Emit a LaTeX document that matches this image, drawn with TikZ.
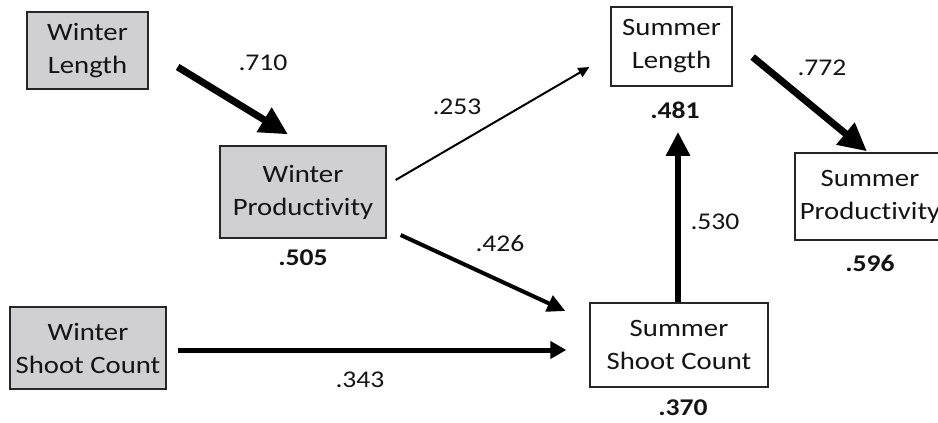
\documentclass[tikz,border=0pt]{standalone}
\usepackage{fontspec}
\setmainfont{Carlito}[Ligatures=NoCommon,FakeStretch=1.15]
\usetikzlibrary{arrows.meta,calc}
\definecolor{boxgray}{RGB}{208,207,209}
\definecolor{txt}{RGB}{20,20,20}
\tikzset{
  var/.style={draw=black!85,line width=1.3pt,inner sep=0pt,align=center,
    font=\fontsize{25}{33}\selectfont,text=txt},
  exo/.style={var,fill=boxgray},
  endo/.style={var,fill=white},
  coef/.style={font=\fontsize{24}{28}\selectfont,text=txt},
  rsq/.style={font=\bfseries\fontsize{24}{28}\selectfont,text=txt},
  path/.style={draw=black,line cap=butt},
}
\begin{document}
\begin{tikzpicture}[x=1pt,y=-1pt]
\useasboundingbox (0,0) rectangle (938,423);
\clip (0,0) rectangle (938,423);
\fill[white] (0,0) rectangle (938,423);
% nodes
\node[exo,minimum width=121pt,minimum height=77pt] (wl) at (87.5,50.5) {Winter\\Length};
\node[exo,minimum width=166pt,minimum height=92pt] (wp) at (303,192) {Winter\\Productivity};
\node[exo,minimum width=156pt,minimum height=82pt] (wsc) at (88,348) {Winter\\Shoot Count};
\node[endo,minimum width=121pt,minimum height=79pt] (sl) at (671.5,46.5) {Summer\\Length};
\node[endo,minimum width=150pt,minimum height=87pt] (sp) at (870,196.5) {Summer\\Productivity};
\node[endo,minimum width=178pt,minimum height=84pt] (ssc) at (679,345) {Summer\\Shoot Count};
% R squared
\node[rsq] (r1) at (303,258) {.505};
\node[rsq] (r2) at (675,110) {.481};
\node[rsq] (r3) at (870,263) {.596};
\node[rsq] (r4) at (683,408) {.370};
% arrow end points
\coordinate (a1s) at ($(wl.east)+(29,16.5)$);
\coordinate (a1e) at ($(wp.north)+(-15,-11)$);
\coordinate (a2s) at ($(wp.east)+(9,-12)$);
\coordinate (a2e) at ($(sl.west)+(-21,20.5)$);
\coordinate (a3s) at ($(wp.east)+(14,43)$);
\coordinate (a3e) at ($(ssc.west)+(-24,-34)$);
\coordinate (a4s) at ($(wsc.east)+(11,2)$);
\coordinate (a4e) at ($(ssc.west)+(-23,5)$);
\coordinate (a5s) at ($(ssc.north)+(-1,0)$);
\coordinate (a5e) at ($(r2.south)+(3,10)$);
\coordinate (a6s) at ($(sl.east)+(20,10.5)$);
\coordinate (a6e) at ($(sp.north)+(-3,-1)$);
% arrows
\draw[path,line width=7pt,-{Triangle[length=28pt,width=27pt]}] (a1s) -- (a1e);
\draw[path,line width=2pt,-{Triangle[length=11pt,width=10pt]}] (a2s) -- (a2e);
\draw[path,line width=4pt,-{Triangle[length=18pt,width=17pt]}] (a3s) -- (a3e);
\draw[path,line width=5pt,-{Triangle[length=16pt,width=17pt]}] (a4s) -- (a4e);
\draw[path,line width=6pt,-{Triangle[length=24pt,width=23pt]}] (a5s) -- (a5e);
\draw[path,line width=7pt,-{Triangle[length=28pt,width=27pt]}] (a6s) -- (a6e);
% coefficients
\node[coef] (c1) at (263,63) {.710};
\node[coef] (c2) at (457,107) {.253};
\node[coef] (c3) at (500,243) {.426};
\node[coef] (c4) at (360,380) {.343};
\node[coef] (c5) at (715,222) {.530};
\node[coef] (c6) at (822,68) {.772};
\end{tikzpicture}
\end{document}
